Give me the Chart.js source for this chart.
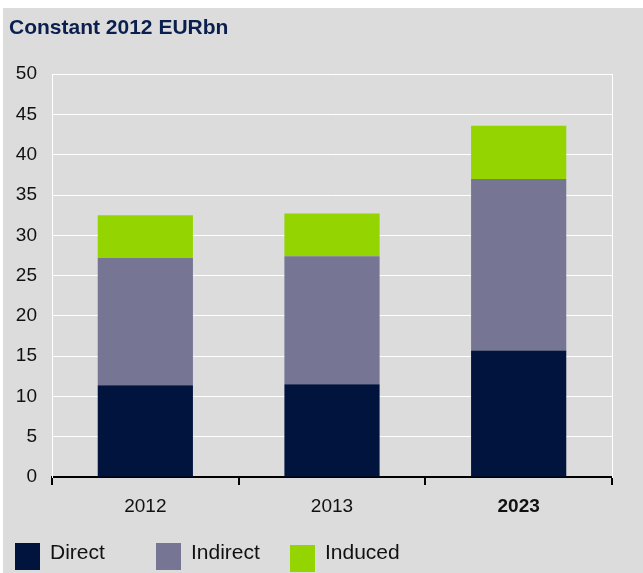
<!DOCTYPE html>
<html>
<head>
<meta charset="utf-8">
<script src="https://cdn.jsdelivr.net/npm/chart.js@4/dist/chart.umd.min.js"></script>
<style>
  html, body { margin: 0; padding: 0; background: #fff; }
  #panel { position: absolute; left: 3px; top: 8px; width: 640px; height: 565px; background: #dcdcdc; }
  #panel canvas { position: absolute; left: 0; top: 0; }
  .lg-box { position: absolute; width: 25px; height: 27px; }
  .lg-text { position: absolute; font: 21px "Liberation Sans", Arial, sans-serif; color: #111; line-height: 24px; }
</style>
</head>
<body>
<div id="panel">
  <canvas id="chart" width="640" height="565"></canvas>
  <div id="legend"></div>
</div>
<script>
const categories = ['2012', '2013', '2023'];
const direct = [11.4, 11.5, 15.7];
const indirect = [15.8, 15.9, 21.3];
const induced = [5.3, 5.3, 6.6];

const seriesNames = ['Direct', 'Indirect', 'Induced'];
const seriesColors = ['#00143e', '#767594', '#94d400'];

const font = '"Liberation Sans", Arial, sans-serif';

const datasets = [direct, indirect, induced].map((d, i) => ({
  label: seriesNames[i],
  data: d,
  backgroundColor: seriesColors[i],
  borderWidth: 0
}));

new Chart(document.getElementById('chart'), {
  type: 'bar',
  data: { labels: categories, datasets: datasets },
  options: {
    responsive: false,
    animation: false,
    layout: { padding: { left: 6, right: 31, top: 0, bottom: 46 } },
    barPercentage: 0.51,
    categoryPercentage: 1,
    plugins: {
      legend: { display: false },
      tooltip: { enabled: false },
      title: {
        display: true,
        text: 'Constant 2012 EURbn',
        align: 'start',
        color: '#0b1f4e',
        font: { family: font, size: 21, weight: 'bold' },
        padding: { top: 8, bottom: 33 }
      }
    },
    scales: {
      x: {
        stacked: true,
        grid: { offset: true, drawOnChartArea: false, drawTicks: true, tickLength: 8, color: '#000', lineWidth: 2 },
        border: { color: '#000', width: 2 },
        ticks: {
          color: '#111',
          padding: 10,
          font: ctx => ({ family: font, size: 19, weight: ctx.index === 2 ? 'bold' : 'normal' })
        },
        afterFit: s => { s.height = 50; }
      },
      y: {
        stacked: true,
        min: 0,
        max: 50,
        ticks: { stepSize: 5, color: '#111', padding: 15, font: { family: font, size: 19 } },
        grid: { color: '#ffffff', lineWidth: 1, drawTicks: false },
        border: { color: '#ffffff', width: 1 },
        afterFit: s => { s.width = 43; }
      },
      yRight: {
        position: 'right',
        min: 0,
        max: 50,
        ticks: { display: false },
        grid: { display: false },
        border: { color: '#ffffff', width: 1 },
        afterFit: s => { s.width = 0; }
      }
    }
  }
});

// legend below the chart
const legendEl = document.getElementById('legend');
const boxX = [12, 153, 287];
const boxY = [535, 535, 537];
seriesNames.forEach((name, i) => {
  const b = document.createElement('div');
  b.className = 'lg-box';
  b.style.left = boxX[i] + 'px';
  b.style.top = boxY[i] + 'px';
  b.style.background = seriesColors[i];
  legendEl.appendChild(b);
  const t = document.createElement('div');
  t.className = 'lg-text';
  t.style.left = (boxX[i] + 35) + 'px';
  t.style.top = '532px';
  t.textContent = name;
  legendEl.appendChild(t);
});
</script>
</body>
</html>
